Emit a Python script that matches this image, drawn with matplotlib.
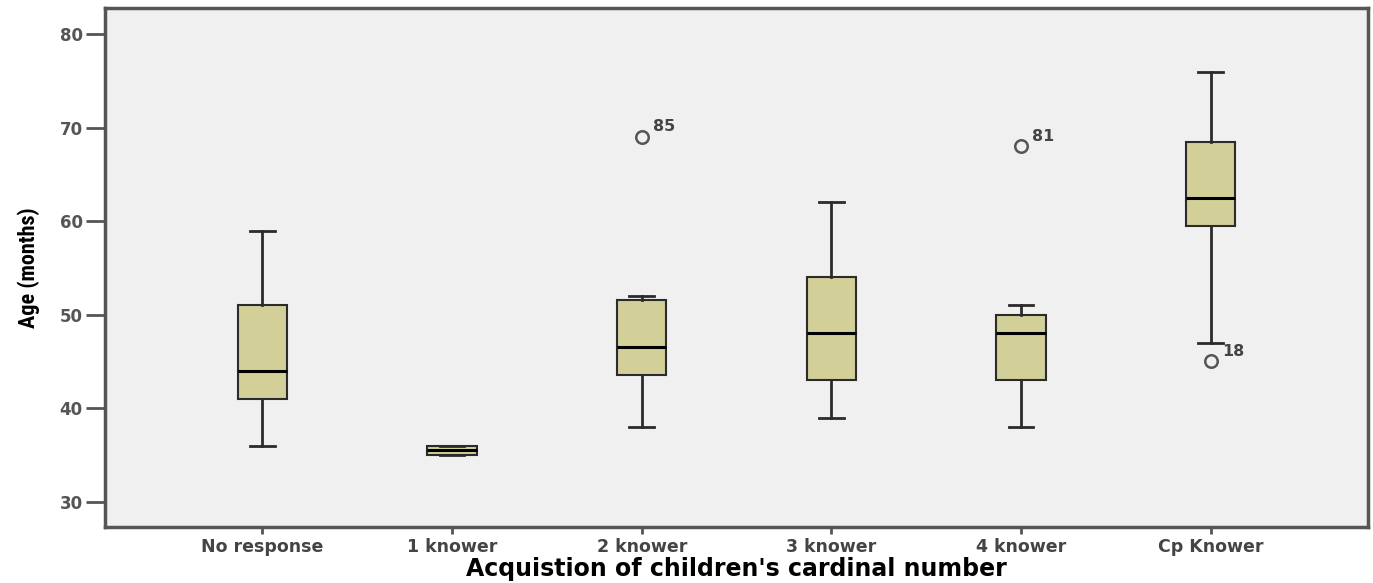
import matplotlib

matplotlib.use("Agg")
import matplotlib.pyplot as plt
from matplotlib import font_manager

CATEGORIES = ["No response", "1 knower", "2 knower", "3 knower", "4 knower", "Cp Knower"]
WHISKER_LO = [36, 35, 38, 39, 38, 47]
Q1 = [41, 35, 43.5, 43, 43, 59.5]
MEDIAN = [44, 35.5, 46.5, 48, 48, 62.5]
Q3 = [51, 36, 51.6, 54, 50, 68.5]
WHISKER_HI = [59, 36, 52, 62, 51, 76]
OUTLIERS = [[], [], [69], [], [68], [45]]
OUTLIER_IDS = [[], [], ["85"], [], ["81"], ["18"]]

BOX_COLOR = "#d3cf98"
EDGE_COLOR = "#2b2b2b"
AXIS_GRAY = "#555555"
FACE_COLOR = "#f0f0f0"


def chon_font_hep():
    co_san = {f.name for f in font_manager.fontManager.ttflist}
    for ten in ["Liberation Sans Narrow", "DejaVu Sans Condensed", "Roboto Condensed"]:
        if ten in co_san:
            return [ten, "DejaVu Sans"]
    return ["DejaVu Sans"]


def tao_thong_ke():
    stats = []
    for i, ten in enumerate(CATEGORIES):
        stats.append({
            "label": ten,
            "whislo": WHISKER_LO[i],
            "q1": Q1[i],
            "med": MEDIAN[i],
            "q3": Q3[i],
            "whishi": WHISKER_HI[i],
            "fliers": OUTLIERS[i],
        })
    return stats


def main():
    fig = plt.figure(figsize=(13.73, 5.83), dpi=100)
    ax = fig.add_axes([0.0765, 0.0961, 0.9199, 0.8902])
    ax.set_facecolor(FACE_COLOR)

    ax.bxp(
        tao_thong_ke(),
        positions=range(len(CATEGORIES)),
        widths=0.26,
        patch_artist=True,
        showfliers=True,
        boxprops=dict(facecolor=BOX_COLOR, edgecolor=EDGE_COLOR, linewidth=1.5),
        medianprops=dict(color="black", linewidth=2.2),
        whiskerprops=dict(color=EDGE_COLOR, linewidth=2),
        capprops=dict(color=EDGE_COLOR, linewidth=2),
        capwidths=0.13,
        flierprops=dict(marker="o", markersize=9, markerfacecolor="none",
                        markeredgecolor="#555555", markeredgewidth=1.8),
    )

    for i, (vals, ids) in enumerate(zip(OUTLIERS, OUTLIER_IDS)):
        for v, nhan in zip(vals, ids):
            ax.annotate(nhan, (i, v), xytext=(8, 2), textcoords="offset points",
                        fontsize=11.5, color="#444444", fontweight="bold",
                        ha="left", va="bottom")

    ax.set_xlim(-0.83, 5.83)
    ax.set_ylim(27.3, 82.8)
    ax.set_yticks([30, 40, 50, 60, 70, 80])
    ax.set_xticks(range(len(CATEGORIES)))
    ax.set_xticklabels(CATEGORIES)

    ax.tick_params(axis="y", length=14, width=2, color=AXIS_GRAY,
                   labelcolor=AXIS_GRAY, labelsize=12, pad=2)
    ax.tick_params(axis="x", length=5, width=2, color=AXIS_GRAY,
                   labelcolor="#444444", labelsize=12.5, pad=3)
    for lab in ax.get_xticklabels() + ax.get_yticklabels():
        lab.set_fontweight("bold")

    for canh in ["left", "bottom", "top", "right"]:
        ax.spines[canh].set_linewidth(2.5)
        ax.spines[canh].set_color(AXIS_GRAY)

    ax.set_xlabel("Acquistion of children's cardinal number", fontsize=17,
                  fontweight="bold", color="black", labelpad=1)
    ax.set_ylabel("Age (months)", fontsize=16, fontweight="bold",
                  family=chon_font_hep(), color="black", labelpad=14)

    fig.savefig("out.png", dpi=100)
    plt.close(fig)


if __name__ == "__main__":
    main()
